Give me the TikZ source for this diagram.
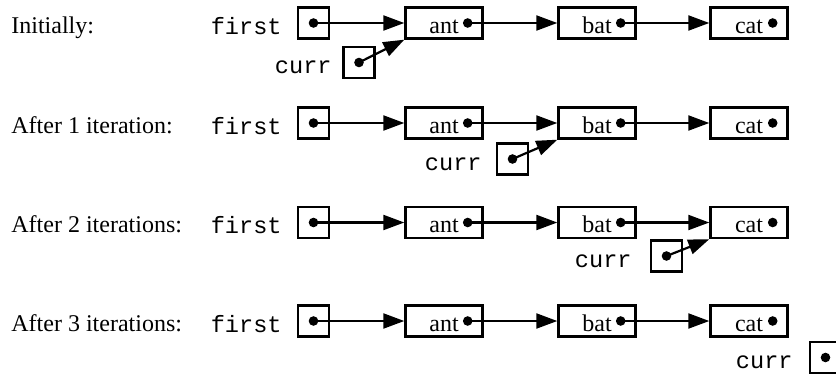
\documentclass[tikz,border=0pt]{standalone}
\usepackage{fontspec}
\setmainfont{Liberation Serif}
\setmonofont{Liberation Mono}
\usetikzlibrary{arrows.meta}
\tikzset{
  lbl/.style={inner sep=0pt, font=\fontsize{12pt}{14pt}\selectfont},
  tt/.style={inner sep=0pt, font=\fontsize{11.8pt}{14pt}\selectfont\ttfamily},
  ptrbox/.style={draw, line width=1.2pt, minimum width=15.5pt, minimum height=15.5pt, inner sep=0pt},
  databox/.style={draw, line width=1.2pt, minimum width=38.5pt, minimum height=15.5pt, inner sep=0pt,
    text height=10pt, text depth=0pt, font=\fontsize{12pt}{14pt}\selectfont},
  arr/.style={line width=1.1pt, -{Triangle[length=10.5pt,width=7.5pt]}},
  dot/.style={fill=black},
}
\newcommand{\mkrow}[3]{%
  \node[lbl, anchor=base west] (lab#1) at (11,#2+10) {#3};
  \node[tt, anchor=base east] (ftxt#1) at (282,#2+11) {first};
  \node[ptrbox] (first#1) at (313.5,#2) {};
  \node[databox] (ant#1) at (444,#2) {ant};
  \node[databox] (bat#1) at (597,#2) {bat};
  \node[databox] (cat#1) at (749,#2) {cat};
  \coordinate (fd#1) at (first#1.center);
  \coordinate (ad#1) at ([xshift=-8pt]ant#1.east);
  \coordinate (bd#1) at ([xshift=-8pt]bat#1.east);
  \coordinate (cd#1) at ([xshift=-8pt]cat#1.east);
  \fill[dot] (fd#1) circle[radius=2.4pt];
  \fill[dot] (ad#1) circle[radius=2.4pt];
  \fill[dot] (bd#1) circle[radius=2.4pt];
  \fill[dot] (cd#1) circle[radius=2.4pt];
  \draw[arr] (fd#1) -- (ant#1.west);
  \draw[arr] (ad#1) -- (bat#1.west);
  \draw[arr] (bd#1) -- (cat#1.west);
}
\begin{document}
\begin{tikzpicture}[x=0.5pt,y=-0.5pt]
\useasboundingbox (0,0) rectangle (836,375);
\mkrow{1}{23}{Initially:}
\mkrow{2}{123}{After 1 iteration:}
\mkrow{3}{222.5}{After 2 iterations:}
\mkrow{4}{321}{After 3 iterations:}
% curr pointers
\node[ptrbox] (curr1) at (359,62.5) {};
\node[tt, anchor=base east] (ctxt1) at (332,73) {curr};
\coordinate (ccd1) at (curr1.center);
\fill[dot] (ccd1) circle[radius=2.4pt];
\draw[arr] (ccd1) -- (ant1.south west);

\node[ptrbox] (curr2) at (512.5,159) {};
\node[tt, anchor=base east] (ctxt2) at (482,170) {curr};
\coordinate (ccd2) at (curr2.center);
\fill[dot] (ccd2) circle[radius=2.4pt];
\draw[arr] (ccd2) -- (bat2.south west);

\node[ptrbox] (curr3) at (666.5,256) {};
\node[tt, anchor=base east] (ctxt3) at (632,267) {curr};
\coordinate (ccd3) at (curr3.center);
\fill[dot] (ccd3) circle[radius=2.4pt];
\draw[arr] (ccd3) -- (cat3.south west);

\node[ptrbox] (curr4) at (825.5,357.5) {};
\node[tt, anchor=base east] (ctxt4) at (793,368) {curr};
\coordinate (ccd4) at (curr4.center);
\fill[dot] (ccd4) circle[radius=2.4pt];
\end{tikzpicture}
\end{document}
